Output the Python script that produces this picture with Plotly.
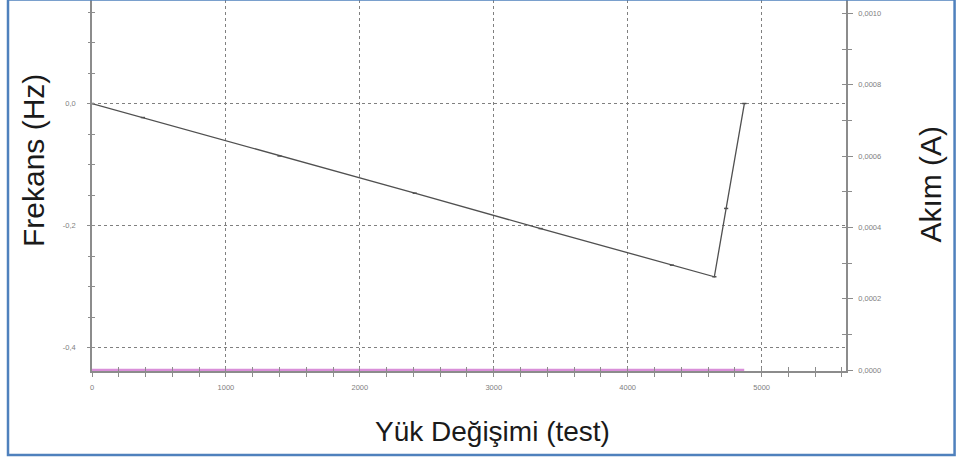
import plotly.graph_objects as go

# ---- data ----
yuk_x = [0, 380, 1400, 2410, 3350, 4330, 4647, 4735, 4871]
frekans = [0.0, -0.023, -0.086, -0.147, -0.205, -0.265, -0.284, -0.172, 0.0]

akim_x = [0, 1000, 2000, 3000, 4000, 4870]
akim = [0, 0, 0, 0, 0, 0]

x_tickvals = [0, 1000, 2000, 3000, 4000, 5000]
x_ticktext = ["0", "1000", "2000", "3000", "4000", "5000"]
y_tickvals = [0.0, -0.2, -0.4]
y_ticktext = ["0,0", "-0,2", "-0,4"]
y2_tickvals = [0.0, 0.0002, 0.0004, 0.0006, 0.0008, 0.0010]
y2_ticktext = ["0,0000", "0,0002", "0,0004", "0,0006", "0,0008", "0,0010"]

X_RANGE = [0, 5630]
Y_RANGE = [-0.4385, 0.1697]
Y2_RANGE = [-0.0000028, 0.0010378]

AX = "#8c8c8c"
GRID = "#808080"
TICKFONT = dict(family="Liberation Sans, Arial, sans-serif", size=7.5, color="#808080")
TITLEFONT = dict(family="Liberation Sans, Arial, sans-serif", size=28, color="#1a1a1a")

fig = go.Figure()
fig.add_trace(go.Scatter(
    x=yuk_x, y=frekans, mode="lines+markers", xaxis="x", yaxis="y",
    line=dict(color="#505050", width=1.3),
    marker=dict(symbol="line-ew-open", size=3, line=dict(color="#404040", width=1.5)),
    showlegend=False, hoverinfo="skip"))
fig.add_trace(go.Scatter(
    x=akim_x, y=akim, mode="lines", xaxis="x", yaxis="y2",
    line=dict(color="#d98fd9", width=2.3),
    showlegend=False, hoverinfo="skip"))
# empty helper traces so the overlay (inside-tick) axes exist
fig.add_trace(go.Scatter(x=[], y=[], xaxis="x3", yaxis="y3", showlegend=False))
fig.add_trace(go.Scatter(x=[], y=[], xaxis="x", yaxis="y4", showlegend=False))

fig.update_layout(
    width=956, height=459,
    margin=dict(l=92, r=110, t=0, b=88),
    paper_bgcolor="white", plot_bgcolor="white",
    xaxis=dict(range=X_RANGE, tickmode="array", tickvals=x_tickvals, ticktext=x_ticktext,
               showline=True, linecolor=AX, linewidth=1.5, layer="below traces",
               ticks="outside", ticklen=4, tickcolor=AX, tickwidth=1,
               minor=dict(tickmode="linear", tick0=0, dtick=200, ticks="outside",
                          ticklen=4, tickcolor=AX, tickwidth=1, showgrid=False),
               showgrid=True, gridcolor=GRID, griddash="dot", gridwidth=1,
               zeroline=False, tickfont=TICKFONT, ticklabelstandoff=4, anchor="y"),
    xaxis3=dict(range=X_RANGE, overlaying="x", anchor="y3", showline=False,
                showgrid=False, zeroline=False, showticklabels=False,
                tickmode="linear", tick0=0, dtick=1000, ticks="inside", ticklen=4,
                tickcolor=AX, tickwidth=1,
                minor=dict(tickmode="linear", tick0=0, dtick=200, ticks="inside",
                           ticklen=4, tickcolor=AX, tickwidth=1, showgrid=False)),
    yaxis=dict(range=Y_RANGE, tickmode="array", tickvals=y_tickvals, ticktext=y_ticktext,
               showline=True, linecolor=AX, linewidth=1.5, layer="below traces",
               ticks="outside", ticklen=3, tickcolor=AX, tickwidth=1,
               minor=dict(tickmode="linear", tick0=0, dtick=0.05, ticks="outside",
                          ticklen=2, tickcolor=AX, tickwidth=1, showgrid=False),
               showgrid=True, gridcolor=GRID, griddash="dot", gridwidth=1,
               zeroline=False, tickfont=TICKFONT, ticklabelstandoff=10, anchor="x"),
    yaxis3=dict(range=Y_RANGE, overlaying="y", anchor="x3", side="left", showline=False,
                showgrid=False, zeroline=False, showticklabels=False,
                tickmode="linear", tick0=0, dtick=0.05, ticks="inside", ticklen=3,
                tickcolor=AX, tickwidth=1),
    yaxis2=dict(range=Y2_RANGE, overlaying="y", side="right", anchor="x",
                tickmode="array", tickvals=y2_tickvals, ticktext=y2_ticktext,
                showline=True, linecolor=AX, linewidth=1.5,
                ticks="outside", ticklen=5, tickcolor=AX, tickwidth=1,
                minor=dict(tickmode="linear", tick0=0, dtick=0.0001, ticks="outside",
                           ticklen=4, tickcolor=AX, tickwidth=1, showgrid=False),
                showgrid=False, zeroline=False, tickfont=TICKFONT, ticklabelstandoff=4),
    yaxis4=dict(range=Y2_RANGE, overlaying="y", side="right", anchor="x",
                showline=False, showgrid=False, zeroline=False, showticklabels=False,
                tickmode="linear", tick0=0, dtick=0.0001, ticks="inside", ticklen=4,
                tickcolor=AX, tickwidth=1),
    annotations=[
        dict(text="Frekans (Hz)", xref="paper", yref="paper", x=-0.0782, y=0.566,
             textangle=-90, showarrow=False, font=dict(TITLEFONT, size=30),
             xanchor="center", yanchor="middle"),
        dict(text="Akım (A)", xref="paper", yref="paper", x=1.1127, y=0.505,
             textangle=-90, showarrow=False, font=dict(TITLEFONT, size=30),
             xanchor="center", yanchor="middle"),
        dict(text="Yük Değişimi (test)", xref="paper", yref="paper", x=0.5318, y=-0.1644,
             showarrow=False, font=TITLEFONT, xanchor="center", yanchor="middle"),
    ],
    shapes=[dict(type="rect", xref="paper", yref="paper",
                 x0=-0.1114, x1=1.1440, y0=-0.2264, y1=1.0015,
                 line=dict(color="#4f81bd", width=2.5), fillcolor="rgba(0,0,0,0)",
                 layer="above")],
)

fig.write_html("out.html")
